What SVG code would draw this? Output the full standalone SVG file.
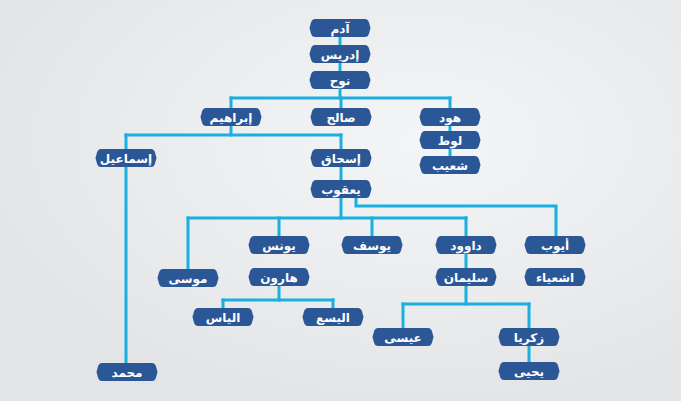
<svg xmlns="http://www.w3.org/2000/svg" xmlns:xlink="http://www.w3.org/1999/xlink" width="681" height="401" viewBox="0 0 681 401">
<defs>
<radialGradient id="bg" cx="0.62" cy="0.35" r="0.7">
<stop offset="0" stop-color="#f3f5f7"/>
<stop offset="0.6" stop-color="#e9ebed"/>
<stop offset="1" stop-color="#e2e4e6"/>
</radialGradient>
<path id="pill" d="M-25,-9 H25 Q28,-9 29,-5.5 L30.5,0 L29,5.5 Q28,9 25,9 H-25 Q-28,9 -29,5.5 L-30.5,0 L-29,-5.5 Q-28,-9 -25,-9 Z"/>
<style>
.box{fill:#2b5797;}
.lbl{fill:#ffffff;font-family:"DejaVu Sans",sans-serif;font-weight:bold;font-size:12px;text-anchor:middle;}
.con{fill:none;stroke:#1aafe0;stroke-width:3;stroke-linecap:square;stroke-linejoin:miter;}
</style>
</defs>
<rect width="681" height="401" fill="url(#bg)"/>
<g id="connectors" class="con">
<path d="M340,36 V98"/>
<path d="M231,98 H450"/>
<path d="M231,98 V135"/>
<path d="M341,98 V110"/>
<path d="M450,98 V160"/>
<path d="M126,135 H341"/>
<path d="M126,135 V365"/>
<path d="M341,135 V218"/>
<path d="M188,218 H466"/>
<path d="M188,218 V270"/>
<path d="M279,218 V238"/>
<path d="M372,218 V238"/>
<path d="M466,218 V304"/>
<path d="M356,196 V206 H556 V238"/>
<path d="M279,285 V300"/>
<path d="M223,300 H333"/>
<path d="M223,300 V309"/>
<path d="M333,300 V309"/>
<path d="M403,304 H529"/>
<path d="M403,304 V330"/>
<path d="M529,304 V365"/>
</g>
<g id="n-adam" transform="translate(340,28)"><use xlink:href="#pill" class="box"/><text class="lbl" y="4.5">آدم</text></g>
<g id="n-idris" transform="translate(340,54)"><use xlink:href="#pill" class="box"/><text class="lbl" y="4.5">إدريس</text></g>
<g id="n-nuh" transform="translate(340,80)"><use xlink:href="#pill" class="box"/><text class="lbl" y="4.5">نوح</text></g>
<g id="n-ibrahim" transform="translate(231,117)"><use xlink:href="#pill" class="box"/><text class="lbl" y="4.5">إبراهيم</text></g>
<g id="n-salih" transform="translate(341,117)"><use xlink:href="#pill" class="box"/><text class="lbl" y="4.5">صالح</text></g>
<g id="n-hud" transform="translate(450,117)"><use xlink:href="#pill" class="box"/><text class="lbl" y="4.5">هود</text></g>
<g id="n-lut" transform="translate(450,140)"><use xlink:href="#pill" class="box"/><text class="lbl" y="4.5">لوط</text></g>
<g id="n-shuayb" transform="translate(450,165)"><use xlink:href="#pill" class="box"/><text class="lbl" y="4.5">شعيب</text></g>
<g id="n-ismail" transform="translate(126,158)"><use xlink:href="#pill" class="box"/><text class="lbl" y="4.5">إسماعيل</text></g>
<g id="n-ishaq" transform="translate(341,158)"><use xlink:href="#pill" class="box"/><text class="lbl" y="4.5">إسحاق</text></g>
<g id="n-yaqub" transform="translate(341,189)"><use xlink:href="#pill" class="box"/><text class="lbl" y="4.5">يعقوب</text></g>
<g id="n-yunus" transform="translate(279,245)"><use xlink:href="#pill" class="box"/><text class="lbl" y="4.5">يونس</text></g>
<g id="n-yusuf" transform="translate(372,245)"><use xlink:href="#pill" class="box"/><text class="lbl" y="4.5">يوسف</text></g>
<g id="n-dawud" transform="translate(466,245)"><use xlink:href="#pill" class="box"/><text class="lbl" y="4.5">داوود</text></g>
<g id="n-ayyub" transform="translate(555,245)"><use xlink:href="#pill" class="box"/><text class="lbl" y="4.5">أيوب</text></g>
<g id="n-musa" transform="translate(188,278)"><use xlink:href="#pill" class="box"/><text class="lbl" y="4.5">موسى</text></g>
<g id="n-harun" transform="translate(279,277)"><use xlink:href="#pill" class="box"/><text class="lbl" y="4.5">هارون</text></g>
<g id="n-sulayman" transform="translate(466,277)"><use xlink:href="#pill" class="box"/><text class="lbl" y="4.5">سليمان</text></g>
<g id="n-ashiya" transform="translate(555,277)"><use xlink:href="#pill" class="box"/><text class="lbl" y="4.5">اشعياء</text></g>
<g id="n-ilyas" transform="translate(223,317)"><use xlink:href="#pill" class="box"/><text class="lbl" y="4.5">الياس</text></g>
<g id="n-alyasa" transform="translate(333,317)"><use xlink:href="#pill" class="box"/><text class="lbl" y="4.5">اليسع</text></g>
<g id="n-isa" transform="translate(403,337)"><use xlink:href="#pill" class="box"/><text class="lbl" y="4.5">عيسى</text></g>
<g id="n-zakariya" transform="translate(529,337)"><use xlink:href="#pill" class="box"/><text class="lbl" y="4.5">زكريا</text></g>
<g id="n-muhammad" transform="translate(127,372)"><use xlink:href="#pill" class="box"/><text class="lbl" y="4.5">محمد</text></g>
<g id="n-yahya" transform="translate(529,371)"><use xlink:href="#pill" class="box"/><text class="lbl" y="4.5">يحيى</text></g>
</svg>
